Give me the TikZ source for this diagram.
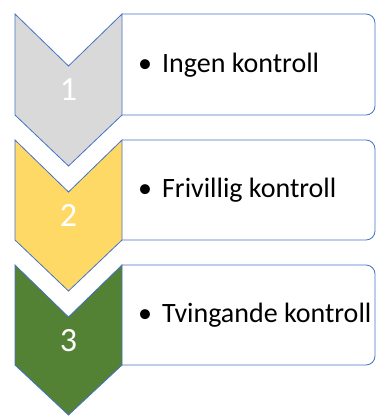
\documentclass[tikz,border=0pt]{standalone}
\usepackage{fontspec}
\setmainfont{Carlito}
\definecolor{stepgray}{HTML}{D9D9D9}
\definecolor{stepyellow}{HTML}{FFD966}
\definecolor{stepgreen}{HTML}{548235}
\definecolor{edgeblue}{HTML}{4472C4}
\tikzset{
  chevron/.style={draw=edgeblue,line width=0.8pt,line join=miter},
  textbox/.style={draw=edgeblue,line width=0.8pt,fill=white},
  stepnum/.style={text=white,font=\fontsize{34}{34}\selectfont,inner sep=0pt},
  steptext/.style={anchor=west,font=\fontsize{28}{28}\selectfont,inner sep=0pt}
}
\begin{document}
\begin{tikzpicture}[x=1pt,y=-1pt]
  \useasboundingbox (0,0) rectangle (376,416);
  % level 1
  \draw[textbox] (122,14) [rounded corners=9pt] -- (375,14) -- (375,115)
    [sharp corners] -- (122,115);
  \draw[chevron,fill=stepgray] (15,14) -- (68.5,66) -- (122,14)
    -- (122,115) -- (68.5,166) -- (15,115) -- cycle;
  \node[stepnum] (num1) at (68.5,90) {1};
  \node[steptext] (txt1) at (138,65) {\textbullet\hspace{10pt}Ingen kontroll};
  % level 2
  \draw[textbox] (122,140) [rounded corners=9pt] -- (375,140) -- (375,240)
    [sharp corners] -- (122,240);
  \draw[chevron,fill=stepyellow] (15,140) -- (68.5,192) -- (122,140)
    -- (122,240) -- (68.5,291) -- (15,240) -- cycle;
  \node[stepnum] (num2) at (68.5,215) {2};
  \node[steptext] (txt2) at (138,190) {\textbullet\hspace{10pt}Frivillig kontroll};
  % level 3
  \draw[textbox] (122,265) [rounded corners=9pt] -- (375,265) -- (375,365)
    [sharp corners] -- (122,365);
  \draw[chevron,fill=stepgreen] (15,265) -- (68.5,317) -- (122,265)
    -- (122,365) -- (68.5,415) -- (15,365) -- cycle;
  \node[stepnum] (num3) at (68.5,341) {3};
  \node[steptext] (txt3) at (138,315) {\textbullet\hspace{10pt}Tvingande kontroll};
\end{tikzpicture}
\end{document}
